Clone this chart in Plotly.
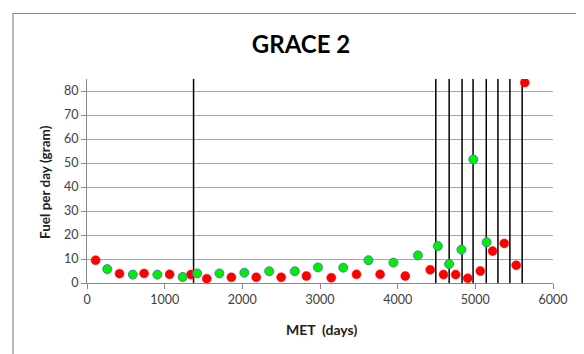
import plotly.graph_objects as go

# Data
red_met = [111, 419, 735, 1064, 1337, 1542, 1859, 2179, 2500, 2825, 3145, 3470,
           3774, 4098, 4419, 4590, 4747, 4902, 5064, 5222, 5372, 5526, 5637]
red_fuel = [9.5, 3.9, 4.0, 3.6, 3.5, 1.8, 2.4, 2.4, 2.4, 2.9, 2.2, 3.6,
            3.6, 2.9, 5.5, 3.5, 3.5, 2.0, 5.0, 13.3, 16.5, 7.4, 83.5]

green_met = [261, 590, 906, 1231, 1419, 1705, 2026, 2346, 2676, 2974, 3299, 3624,
             3945, 4261, 4517, 4662, 4821, 4974, 5145]
green_fuel = [5.8, 3.5, 3.5, 2.5, 4.0, 4.0, 4.3, 4.9, 4.9, 6.5, 6.4, 9.5,
              8.5, 11.5, 15.4, 7.9, 13.9, 51.5, 17.0]

event_met = [1372, 4491, 4663, 4829, 4971, 5141, 5291, 5445, 5603]
y_top = 85

x_ticks = [0, 1000, 2000, 3000, 4000, 5000, 6000]
y_ticks = [0, 10, 20, 30, 40, 50, 60, 70, 80]

FONT = "Lato"

fig = go.Figure()

# vertical event lines
vx, vy = [], []
for m in event_met:
    vx += [m, m, None]
    vy += [0, y_top, None]
fig.add_trace(go.Scatter(x=vx, y=vy, mode="lines",
                         line=dict(color="black", width=1.5),
                         hoverinfo="skip", showlegend=False))

fig.add_trace(go.Scatter(x=red_met, y=red_fuel, mode="markers",
                         marker=dict(color="#FF0000", size=9,
                                     line=dict(color="#E80000", width=0.5)),
                         showlegend=False))
fig.add_trace(go.Scatter(x=green_met, y=green_fuel, mode="markers",
                         marker=dict(color="#00F000", size=9,
                                     line=dict(color="#4A7EBB", width=1)),
                         showlegend=False))

# page has an 8px body margin, so the figure is laid out 8px smaller
W, H = 576, 346
L, T = 79, 71
pw, ph = 466, 204
R, B = W - L - pw, H - T - ph

def px_to_paper_x(px):
    return (px - L) / pw

def px_to_paper_y(py):
    return (T + ph - py) / ph

fig.add_shape(type="rect", xref="paper", yref="paper",
              x0=px_to_paper_x(5), x1=px_to_paper_x(600),
              y0=px_to_paper_y(380), y1=px_to_paper_y(5.5),
              line=dict(color="#888888", width=1.2), fillcolor="rgba(0,0,0,0)",
              layer="below")

fig.add_annotation(text="<b>MET  (days)</b>", xref="paper", yref="paper",
                   x=px_to_paper_x(313), y=px_to_paper_y(321),
                   xanchor="center", yanchor="middle", showarrow=False,
                   font=dict(family=FONT, size=14, color="#222222"))

fig.add_annotation(text="<b>Fuel per day (gram)</b>", xref="paper", yref="paper",
                   x=px_to_paper_x(37), y=px_to_paper_y(174),
                   xanchor="center", yanchor="middle", showarrow=False, textangle=-90,
                   font=dict(family=FONT, size=13.5, color="#222222"))

fig.update_layout(
    width=W, height=H,
    margin=dict(l=L, r=R, t=T, b=B, autoexpand=False),
    paper_bgcolor="white", plot_bgcolor="white",
    font=dict(family=FONT, color="#404040", size=12.5),
    title=dict(text="<b>GRACE 2</b>", x=293 / W, xref="container", xanchor="center",
               y=1 - 37 / H, yref="container", yanchor="middle",
               font=dict(family=FONT, size=24, color="black")),
    xaxis=dict(range=[0, 6000], tickvals=x_ticks, showgrid=False,
               showline=True, linecolor="#888888", linewidth=1,
               ticks="outside", ticklen=5, tickcolor="#888888",
               zeroline=False),
    yaxis=dict(range=[0, y_top], tickvals=y_ticks, showgrid=True,
               gridcolor="#A6A6A6", gridwidth=1,
               showline=True, linecolor="#888888", linewidth=1,
               ticks="outside", ticklen=5, tickcolor="#888888",
               zeroline=False),
)

fig.write_html("out.html")
